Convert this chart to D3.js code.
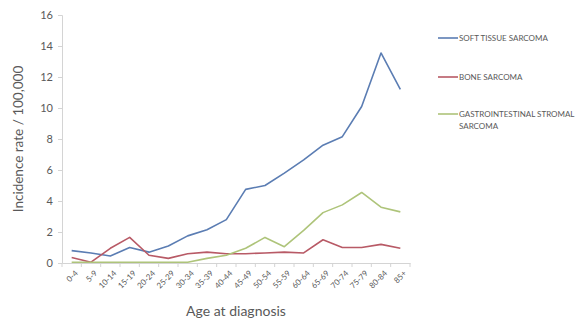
<!DOCTYPE html>
<html><head><meta charset="utf-8">
<script src="https://cdn.jsdelivr.net/npm/d3@7"></script>
<style>body{margin:0;background:#fff}svg{display:block}text{font-family:Lato,"Open Sans",sans-serif}</style>
</head><body><svg id="c" width="577" height="321"></svg>
<script>
const categories = ["0-4","5-9","10-14","15-19","20-24","25-29","30-34","35-39","40-44","45-49","50-54","55-59","60-64","65-69","70-74","75-79","80-84","85+"];
const softTissue = [0.8,0.65,0.45,1.0,0.7,1.1,1.75,2.15,2.8,4.75,5.0,5.8,6.65,7.6,8.15,10.1,13.55,11.2];
const bone = [0.35,0.05,0.95,1.65,0.5,0.3,0.6,0.7,0.6,0.6,0.65,0.7,0.65,1.5,1.0,1.0,1.2,0.95];
const gist = [0.05,0.05,0.05,0.05,0.05,0.05,0.05,0.3,0.5,0.95,1.65,1.05,2.1,3.25,3.75,4.55,3.6,3.3];
const yTicks = [0,2,4,6,8,10,12,14,16];
const seriesNames = ["SOFT TISSUE SARCOMA","BONE SARCOMA","GASTROINTESTINAL STROMAL SARCOMA"];
const seriesColors = ["#5b7db3","#b85a66","#aec47a"];

const svg = d3.select("#c");
const x = d3.scaleBand().domain(categories).range([62,410]);
const y = d3.scaleLinear().domain([0,16]).range([263,15]);
const axisColor = "#d4d4d4", textColor = "#595959";

// Y axis
const ya = svg.append("g").attr("transform","translate(62,0)")
  .call(d3.axisLeft(y).tickValues(yTicks).tickSize(4).tickPadding(5));
ya.select(".domain").attr("stroke",axisColor);
ya.selectAll(".tick line").attr("stroke",axisColor);
ya.selectAll("text").attr("fill",textColor).style("font-size","11px");

// X axis
const xa = svg.append("g").attr("transform","translate(0,263)")
  .call(d3.axisBottom(x).tickSize(0).tickSizeOuter(0));
xa.select(".domain").attr("stroke",axisColor);
xa.selectAll(".tick line").remove();
xa.selectAll(".tick text").attr("fill",textColor).style("font-size","8px")
  .attr("text-anchor","end").attr("dy","0.3em")
  .attr("transform","translate(3,7) rotate(-45)");
// boundary tick marks
svg.append("g").selectAll("line").data(categories.concat(["_end"])).join("line")
  .attr("x1",(d,i)=>62+i*x.step()).attr("x2",(d,i)=>62+i*x.step())
  .attr("y1",263).attr("y2",267).attr("stroke",axisColor);

// lines
const allSeries = [softTissue,bone,gist];
const line = d3.line().x((d,i)=>x(categories[i])+x.bandwidth()/2).y(d=>y(d));
allSeries.forEach((s,k)=>{
  svg.append("path").datum(s).attr("d",line).attr("fill","none")
    .attr("stroke",seriesColors[k]).attr("stroke-width",1.6).attr("stroke-linejoin","round");
});

// legend
const legY = [38,77,114];
seriesNames.forEach((n,k)=>{
  svg.append("line").attr("x1",438).attr("x2",458).attr("y1",legY[k]).attr("y2",legY[k])
    .attr("stroke",seriesColors[k]).attr("stroke-width",1.6);
  const t = svg.append("text").attr("x",459).attr("y",legY[k]+2.8).attr("fill",textColor)
    .style("font-size","8px");
  if(k===2){
    t.text("GASTROINTESTINAL STROMAL");
    svg.append("text").attr("x",459).attr("y",legY[k]+14.8).attr("fill",textColor)
      .style("font-size","8px").text("SARCOMA");
  } else t.text(n);
});

// titles
svg.append("text").attr("transform","translate(23,139) rotate(-90)").attr("text-anchor","middle")
  .attr("fill",textColor).style("font-size","13.5px").text("Incidence rate / 100,000");
svg.append("text").attr("x",236).attr("y",316).attr("text-anchor","middle")
  .attr("fill",textColor).style("font-size","14px").text("Age at diagnosis");
</script></body></html>
